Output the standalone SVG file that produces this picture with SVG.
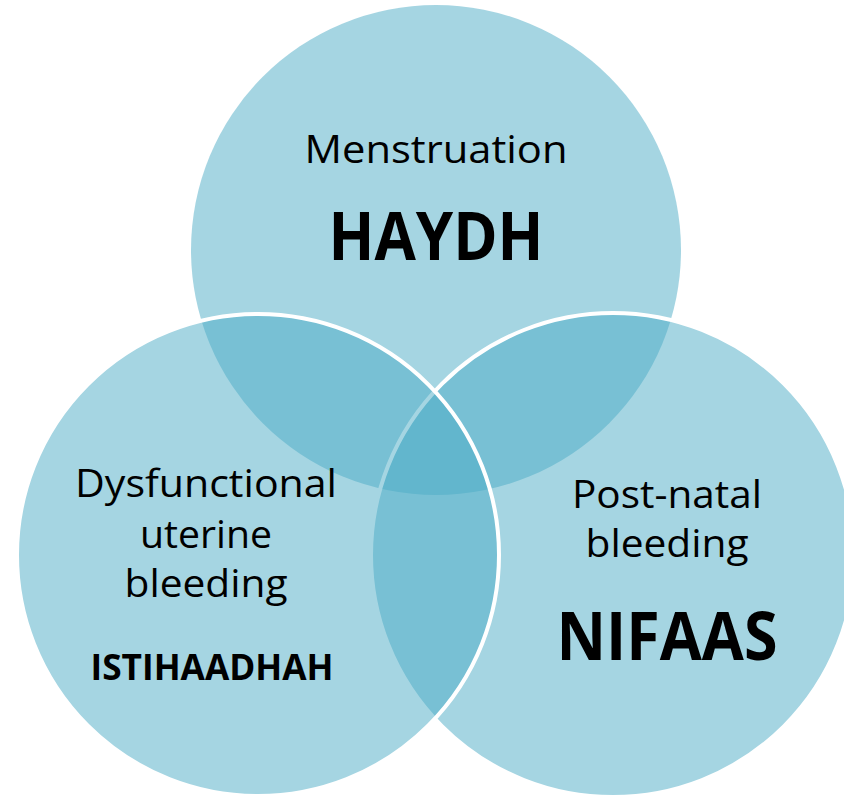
<svg xmlns="http://www.w3.org/2000/svg" width="844" height="802" viewBox="0 0 844 802">
<style>
.c{fill:#4BACC6;fill-opacity:0.5}
.s{stroke:#FFFFFF;stroke-width:4}
text{font-family:"Open Sans","Noto Sans","Liberation Sans",sans-serif;fill:#000;text-anchor:middle}
.b{font-weight:bold}
</style>
<g id="haydh">
<circle class="c" cx="436" cy="250" r="245"/>
<text x="436" y="163" font-size="38" textLength="263" lengthAdjust="spacingAndGlyphs">Menstruation</text>
<text class="b" x="436" y="260" font-size="66" textLength="215" lengthAdjust="spacingAndGlyphs">HAYDH</text>
</g>
<g id="nifaas">
<circle class="c s" cx="613" cy="555" r="242"/>
<text x="667" y="508" font-size="38" textLength="190" lengthAdjust="spacingAndGlyphs">Post-natal</text>
<text x="667" y="557" font-size="38" textLength="163" lengthAdjust="spacingAndGlyphs">bleeding</text>
<text class="b" x="667" y="660" font-size="66" textLength="221" lengthAdjust="spacingAndGlyphs">NIFAAS</text>
</g>
<g id="istihaadhah">
<circle class="c s" cx="258" cy="555" r="241"/>
<text x="206" y="497" font-size="38" textLength="262" lengthAdjust="spacingAndGlyphs">Dysfunctional</text>
<text x="206" y="548" font-size="38" textLength="132" lengthAdjust="spacingAndGlyphs">uterine</text>
<text x="206" y="597" font-size="38" textLength="163" lengthAdjust="spacingAndGlyphs">bleeding</text>
<text class="b" x="212" y="680" font-size="35" textLength="243" lengthAdjust="spacingAndGlyphs">ISTIHAADHAH</text>
</g>
<g id="connectors"/>
</svg>
